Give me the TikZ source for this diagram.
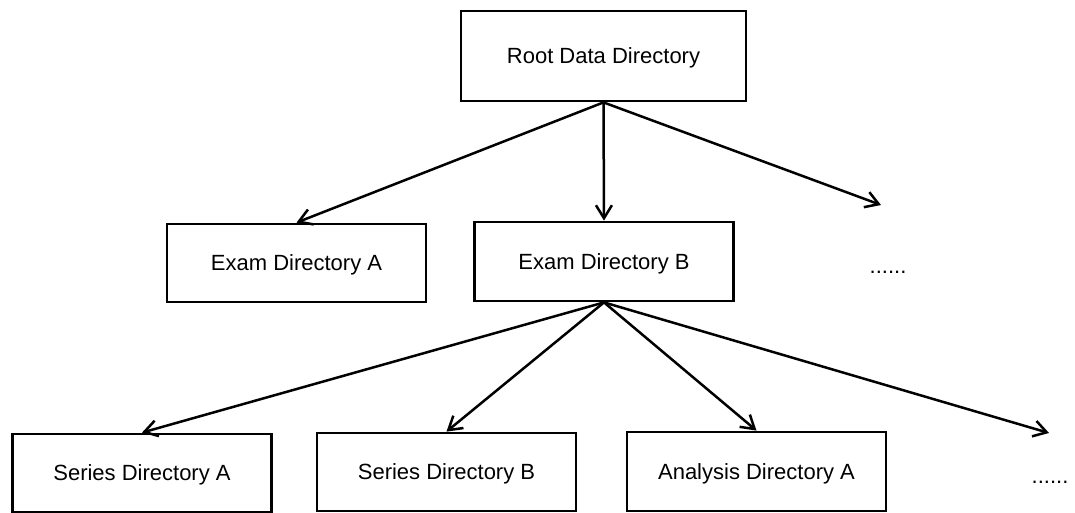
\documentclass[tikz,border=0pt]{standalone}
\usepackage{fontspec}
\setmainfont{Liberation Sans}
\usepackage{tikz}
\usetikzlibrary{arrows.meta}
\tikzset{>={Straight Barb[length=13pt,width=16pt]}}
\tikzstyle{dirbox} = [rectangle, draw=black, line width=2.8pt, minimum width=259pt, minimum height=78pt, inner sep=0, text height=15.8pt, text depth=0pt, font=\fontsize{22}{26}\selectfont]
\tikzstyle{link} = [->, draw=black, line width=2.5pt]

\begin{document}
\begin{tikzpicture}[x=1pt, y=-1pt]
\useasboundingbox (0, 0) rectangle (1075, 513);
\node [dirbox, minimum width=285pt, minimum height=90pt] (R) at (603.5, 56) {Root Data Directory};
\node [dirbox] (EA) at (296.5, 263) {Exam Directory A};
\node [dirbox, minimum height=79pt] (EB) at (604, 261.5) {Exam Directory B};
\node [draw=none, font=\fontsize{22}{26}\selectfont] (D1) at (888, 272) {......};
\node [dirbox] (SA) at (142, 473) {Series Directory A};
\node [dirbox] (SB) at (446.5, 472) {Series Directory B};
\node [dirbox, minimum height=79pt] (AA) at (756.5, 471.5) {Analysis Directory A};
\node [draw=none, font=\fontsize{22}{26}\selectfont] (D2) at (1050, 482) {......};
\coordinate (F1) at (881, 205);
\coordinate (F2) at (1049, 433);
\draw [link] (R.south) to (EA.north);
\draw [link] (R.south) to (EB.north);
\draw [link] (R.south) to (F1);
\draw [link] (EB.south) to (SA.north);
\draw [link] (EB.south) to (SB.north);
\draw [link] (EB.south) to (AA.north);
\draw [link] (EB.south) to (F2);
\end{tikzpicture}
\end{document}
